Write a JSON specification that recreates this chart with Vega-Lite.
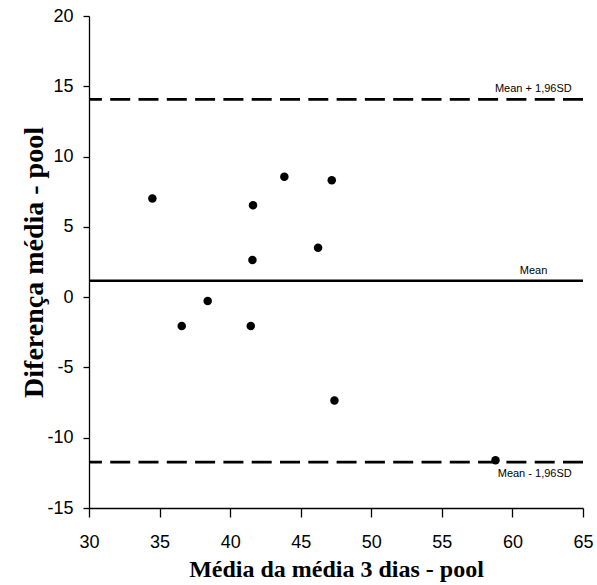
{
  "$schema": "https://vega.github.io/schema/vega-lite/v6.json",
  "width": 494,
  "height": 492,
  "autosize": {"type": "none"},
  "padding": {"left": 89, "top": 16, "right": 14, "bottom": 77},
  "background": "white",
  "config": {
    "view": {"stroke": null},
    "axis": {"grid": false, "domainColor": "black", "tickColor": "black", "domainWidth": 1.3, "tickWidth": 1.3, "labelColor": "black", "titleColor": "black", "labelFont": "Liberation Sans", "labelFontSize": 18, "titleFont": "Liberation Serif", "titleFontWeight": "bold", "labelFlush": false, "labelExpr": "replace(datum.label, '−', '-')"}
  },
  "datasets": {
    "points": [
      {"media": 34.49, "diferenca": 7.01},
      {"media": 43.84, "diferenca": 8.57},
      {"media": 47.2, "diferenca": 8.31},
      {"media": 41.62, "diferenca": 6.54},
      {"media": 46.23, "diferenca": 3.52},
      {"media": 41.58, "diferenca": 2.65},
      {"media": 38.41, "diferenca": -0.27},
      {"media": 36.57, "diferenca": -2.05},
      {"media": 41.46, "diferenca": -2.05},
      {"media": 47.39, "diferenca": -7.36},
      {"media": 58.8, "diferenca": -11.6}
    ],
    "limits": [
      {"value": 14.07, "label": "Mean + 1,96SD"},
      {"value": -11.74, "label": "Mean - 1,96SD"}
    ],
    "mean": [
      {"value": 1.17, "label": "Mean"}
    ]
  },
  "layer": [
    {
      "data": {"name": "limits"},
      "mark": {"type": "rule", "color": "black", "strokeWidth": 2.8, "strokeDash": [20, 8.3]},
      "encoding": {
        "y": {"field": "value", "type": "quantitative", "scale": {"domain": [-15, 20]}}
      }
    },
    {
      "data": {"name": "mean"},
      "mark": {"type": "rule", "color": "black", "strokeWidth": 2.6},
      "encoding": {
        "y": {"field": "value", "type": "quantitative"}
      }
    },
    {
      "data": {"name": "points"},
      "mark": {"type": "point", "filled": true, "color": "black", "opacity": 1, "size": 72},
      "encoding": {
        "x": {"field": "media", "type": "quantitative", "scale": {"domain": [30, 65], "nice": false, "zero": false}, "axis": {"values": [30, 35, 40, 45, 50, 55, 60, 65], "tickSize": 9, "labelPadding": 16, "title": "Média da média 3 dias - pool", "titleFontSize": 24, "titlePadding": 6}},
        "y": {"field": "diferenca", "type": "quantitative", "scale": {"domain": [-15, 20], "nice": false, "zero": false}, "axis": {"values": [-15, -10, -5, 0, 5, 10, 15, 20], "tickSize": 6, "labelPadding": 10, "title": "Diferença média - pool", "titleFontSize": 28, "titlePadding": -2}}
      }
    },
    {
      "data": {"name": "limits"},
      "transform": [{"filter": "datum.value > 0"}],
      "mark": {"type": "text", "align": "right", "baseline": "bottom", "dy": -5, "font": "Liberation Sans", "fontSize": 11, "color": "black"},
      "encoding": {
        "x": {"datum": 64.2, "type": "quantitative"},
        "y": {"field": "value", "type": "quantitative"},
        "text": {"field": "label"}
      }
    },
    {
      "data": {"name": "limits"},
      "transform": [{"filter": "datum.value < 0"}],
      "mark": {"type": "text", "align": "right", "baseline": "top", "dy": 6, "font": "Liberation Sans", "fontSize": 11, "color": "black"},
      "encoding": {
        "x": {"datum": 64.2, "type": "quantitative"},
        "y": {"field": "value", "type": "quantitative"},
        "text": {"field": "label"}
      }
    },
    {
      "data": {"name": "mean"},
      "mark": {"type": "text", "align": "center", "baseline": "bottom", "dy": -5, "font": "Liberation Sans", "fontSize": 11, "color": "black"},
      "encoding": {
        "x": {"datum": 61.5, "type": "quantitative"},
        "y": {"field": "value", "type": "quantitative"},
        "text": {"field": "label"}
      }
    }
  ]
}
